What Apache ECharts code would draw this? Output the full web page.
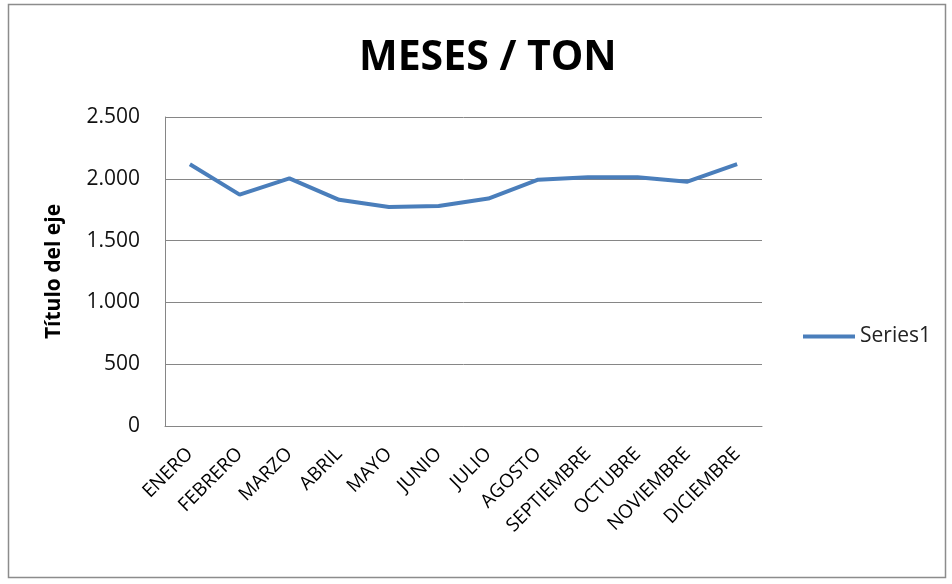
<!DOCTYPE html>
<html><head><meta charset="utf-8">
<script src="https://cdn.jsdelivr.net/npm/echarts@6/dist/echarts.min.js"></script>
<style>html,body{margin:0;padding:0;background:#fff}#c{width:952px;height:584px}</style>
</head><body><div id="c"></div>
<script>
const categories = ['ENERO','FEBRERO','MARZO','ABRIL','MAYO','JUNIO','JULIO','AGOSTO','SEPTIEMBRE','OCTUBRE','NOVIEMBRE','DICIEMBRE'];
const series1 = [2118, 1872, 2003, 1830, 1772, 1780, 1840, 1993, 2013, 2013, 1977, 2118];
const yTicks = [0, 500, 1000, 1500, 2000, 2500];
const fmt = v => v === 0 ? '0' : String(v).replace(/\B(?=(\d{3})+(?!\d))/g, '.');
const chart = echarts.init(document.getElementById('c'));
chart.setOption({
  animation: false,
  graphic: [{type:'rect', shape:{x:8.5,y:4.5,width:937,height:573}, style:{fill:'none', stroke:'#8c8c8c', lineWidth:1.5}}],
  title: {text:'MESES / TON', left:354, top:33, textStyle:{fontFamily:'Open Sans', fontWeight:'bold', fontSize:41, color:'#000'}},
  grid: {left:165, right:190, top:117, bottom:158},
  legend: {data:['Series1'], right:16, top:321, orient:'vertical', itemWidth:52, itemHeight:4, icon:'rect',
    textStyle:{fontFamily:'Open Sans', fontSize:21, color:'#222'}, itemGap:0},
  xAxis: {type:'category', data:categories, boundaryGap:true,
    axisLine:{lineStyle:{color:'#868686', width:1}}, axisTick:{show:false},
    axisLabel:{rotate:45, interval:0, fontFamily:'Open Sans', fontSize:19, color:'#000', margin:25}},
  yAxis: {type:'value', min:0, max:2500, interval:500,
    name:'Título del eje', nameLocation:'middle', nameGap:100, nameRotate:90,
    nameTextStyle:{fontFamily:'Open Sans', fontWeight:'bold', fontSize:21, color:'#000'},
    axisLine:{show:true, lineStyle:{color:'#868686', width:1}}, axisTick:{show:false},
    splitLine:{lineStyle:{color:'#868686', width:1}},
    axisLabel:{formatter: v => yTicks.includes(v) ? fmt(v) : '', fontFamily:'Open Sans', fontSize:21, color:'#111', margin:25}},
  series: [{name:'Series1', type:'line', data:series1, symbol:'none',
    lineStyle:{color:'#4a7ebb', width:4}, itemStyle:{color:'#4a7ebb'}}]
});
</script></body></html>
